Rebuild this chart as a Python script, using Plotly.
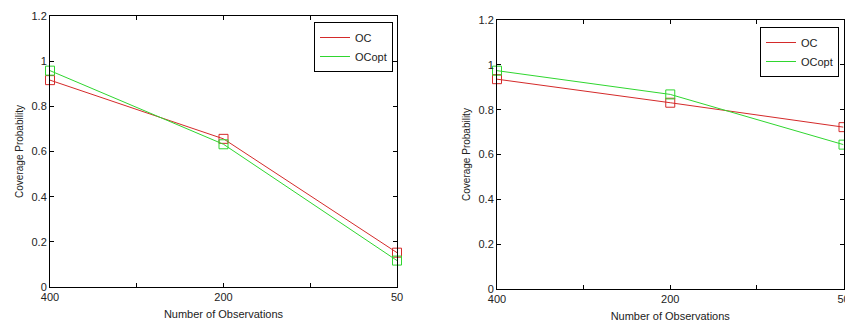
import plotly.graph_objects as go

categories = ["400", "200", "50"]
positions = [1, 2, 3]
oc_left = [0.916, 0.656, 0.152]
ocopt_left = [0.958, 0.632, 0.117]
oc_right = [0.936, 0.831, 0.722]
ocopt_right = [0.974, 0.868, 0.644]
yticks = [0, 0.2, 0.4, 0.6, 0.8, 1, 1.2]
yticktext = ["0", "0.2", "0.4", "0.6", "0.8", "1", "1.2"]
series_names = ["OC", "OCopt"]

RED = "#d42a2a"
GREEN = "#2fd62f"
W, H = 845, 322

fig = go.Figure()

def add_pair(xa, ya, oc, ocopt, legend):
    for name, vals, col in zip(series_names, [oc, ocopt], [RED, GREEN]):
        fig.add_trace(go.Scatter(x=positions, y=vals, name=name, mode="lines+markers",
                                 line=dict(color=col, width=1),
                                 marker=dict(symbol="square-open", size=9, color=col, line=dict(width=1)),
                                 xaxis=xa, yaxis=ya, showlegend=False, cliponaxis=False))
        # legend sample (line only, as in the original)
        fig.add_trace(go.Scatter(x=[None], y=[None], name=name, mode="lines",
                                 line=dict(color=col, width=1),
                                 xaxis=xa, yaxis=ya, legend=legend, showlegend=True))

add_pair("x", "y", oc_left, ocopt_left, "legend")
add_pair("x2", "y2", oc_right, ocopt_right, "legend2")

FAM = "Liberation Sans, Arial, sans-serif"
font = dict(family=FAM, size=11, color="#222")

def xaxis(domain, anchor):
    return dict(domain=domain, anchor=anchor, range=[1, 3], automargin=False,
                tickvals=[1, 1.5, 2, 2.5, 3], ticktext=[categories[0], "", categories[1], "", categories[2]],
                ticks="inside", ticklen=4, tickcolor="black", showline=True, linecolor="black",
                linewidth=1, mirror="ticks", showgrid=False, zeroline=False,
                ticklabeloverflow="allow",
                title=dict(text="Number of Observations", font=font, standoff=8),
                tickfont=font)

def yaxis(domain, anchor):
    return dict(domain=domain, anchor=anchor, range=[0, 1.2], automargin=False,
                tickvals=yticks, ticktext=yticktext,
                ticks="inside", ticklen=4, tickcolor="black", showline=True, linecolor="black",
                linewidth=1, mirror="ticks", showgrid=False, zeroline=False,
                title=dict(text="Coverage Probability", font=dict(family=FAM, size=10, color="#222"), standoff=6),
                tickfont=font)

fig.update_layout(
    width=W, height=H, margin=dict(l=0, r=0, t=0, b=0, autoexpand=False),
    paper_bgcolor="white", plot_bgcolor="white",
    font=font,
    xaxis=xaxis([50 / W, 397 / W], "y"),
    yaxis=yaxis([1 - 287 / H, 1 - 16 / H], "x"),
    xaxis2=xaxis([497 / W, 843.5 / W], "y2"),
    yaxis2=yaxis([1 - 289 / H, 1 - 20 / H], "x2"),
    legend=dict(x=393 / W, y=1 - 22 / H, xanchor="right", yanchor="top",
                bgcolor="white", bordercolor="black", borderwidth=1,
                font=font, tracegroupgap=0),
    legend2=dict(x=839 / W, y=1 - 27 / H, xanchor="right", yanchor="top",
                 bgcolor="white", bordercolor="black", borderwidth=1,
                 font=font, tracegroupgap=0),
    showlegend=True,
)

fig.write_html("out.html")
